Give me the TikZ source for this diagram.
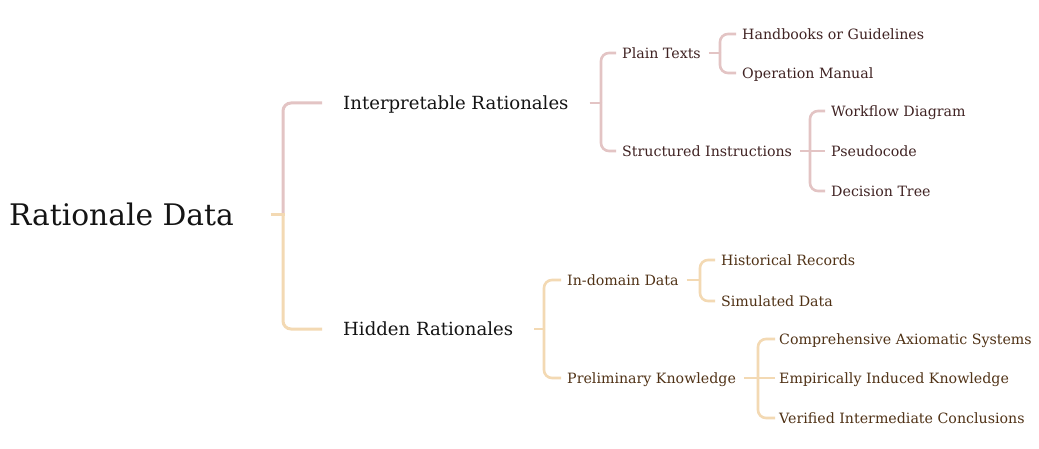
\documentclass[tikz,border=0pt]{standalone}
\usepackage{fontspec}
\setmainfont{DejaVu Serif}
\definecolor{pinkline}{HTML}{E3C4C4}
\definecolor{beigeline}{HTML}{F3D9B3}
\definecolor{pinktext}{HTML}{402323}
\definecolor{beigetext}{HTML}{503216}
\definecolor{roottext}{HTML}{141414}
\tikzset{
  rootlabel/.style={anchor=west, inner sep=0pt, text height=21.6pt, text depth=0pt, text=roottext, font=\fontsize{29.7}{34}\selectfont},
  toplabel/.style={anchor=west, inner sep=0pt, text height=13.2pt, text depth=0pt, text=roottext, font=\fontsize{18.1}{22}\selectfont},
  pinklabel/.style={anchor=west, inner sep=0pt, text height=10.3pt, text depth=0pt, text=pinktext, font=\fontsize{14.2}{17}\selectfont},
  beigelabel/.style={anchor=west, inner sep=0pt, text height=10.3pt, text depth=0pt, text=beigetext, font=\fontsize{14.2}{17}\selectfont},
  pinkcon/.style={draw=pinkline, line width=3pt, rounded corners=8pt},
  beigecon/.style={draw=beigeline, line width=3pt, rounded corners=8pt},
  pinksub/.style={draw=pinkline, line width=2.6pt, rounded corners=8pt},
  beigesub/.style={draw=beigeline, line width=2.6pt, rounded corners=8pt},
}
\begin{document}
\begin{tikzpicture}[x=1pt,y=-1pt]
\useasboundingbox[fill=white] (0,0) rectangle (1039,449);
% nodes
\node[rootlabel] (root) at (9,215) {Rationale Data};
\node[toplabel] (ir) at (343,103) {Interpretable Rationales};
\node[toplabel] (hr) at (343,329) {Hidden Rationales};
\node[pinklabel] (pt) at (622,53) {Plain Texts};
\node[pinklabel] (si) at (622,151) {Structured Instructions};
\node[pinklabel] (hg) at (742,34) {Handbooks or Guidelines};
\node[pinklabel] (om) at (742,73) {Operation Manual};
\node[pinklabel] (wd) at (831,111) {Workflow Diagram};
\node[pinklabel] (pc) at (831,151) {Pseudocode};
\node[pinklabel] (dt) at (831,191) {Decision Tree};
\node[beigelabel] (id) at (567,280) {In-domain Data};
\node[beigelabel] (pk) at (567,378) {Preliminary Knowledge};
\node[beigelabel] (hrec) at (721,260) {Historical Records};
\node[beigelabel] (sd) at (721,301) {Simulated Data};
\node[beigelabel] (cas) at (779,339) {Comprehensive Axiomatic Systems};
\node[beigelabel] (eik) at (779,378) {Empirically Induced Knowledge};
\node[beigelabel] (vic) at (779,418) {Verified Intermediate Conclusions};
% junctions
\coordinate (jroot) at (283,215);
\coordinate (jir) at (601,103);
\coordinate (jhr) at (544,329);
\coordinate (jpt) at (720,53);
\coordinate (jsi) at (810,151);
\coordinate (jid) at (700,280);
\coordinate (jpk) at (758,378);
% root connectors
\draw[pinkcon] (jroot) |- ([xshift=-21pt]ir.west);
\draw[beigecon] (jroot) |- ([xshift=-21pt]hr.west);
\draw[beigecon, rounded corners=0pt] ([xshift=37pt]root.east) -- ([xshift=1.5pt]jroot);
% interpretable
\draw[pinksub] ([xshift=21pt]ir.east) -- (jir);
\draw[pinksub] (jir) |- ([xshift=-6pt]pt.west);
\draw[pinksub] (jir) |- ([xshift=-6pt]si.west);
\draw[pinksub] ([xshift=8pt]pt.east) -- (jpt);
\draw[pinksub] (jpt) |- ([xshift=-6pt]hg.west);
\draw[pinksub] (jpt) |- ([xshift=-6pt]om.west);
\draw[pinksub] ([xshift=8pt]si.east) -- (jsi);
\draw[pinksub] (jsi) |- ([xshift=-6pt]wd.west);
\draw[pinksub] (jsi) -- ([xshift=-6pt]pc.west);
\draw[pinksub] (jsi) |- ([xshift=-6pt]dt.west);
% hidden
\draw[beigesub] ([xshift=21pt]hr.east) -- (jhr);
\draw[beigesub] (jhr) |- ([xshift=-6pt]id.west);
\draw[beigesub] (jhr) |- ([xshift=-6pt]pk.west);
\draw[beigesub] ([xshift=8pt]id.east) -- (jid);
\draw[beigesub] (jid) |- ([xshift=-6pt]hrec.west);
\draw[beigesub] (jid) |- ([xshift=-6pt]sd.west);
\draw[beigesub] ([xshift=8pt]pk.east) -- (jpk);
\draw[beigesub] (jpk) |- ([xshift=-4pt]cas.west);
\draw[beigesub] (jpk) -- ([xshift=-4pt]eik.west);
\draw[beigesub] (jpk) |- ([xshift=-4pt]vic.west);
\end{tikzpicture}
\end{document}
